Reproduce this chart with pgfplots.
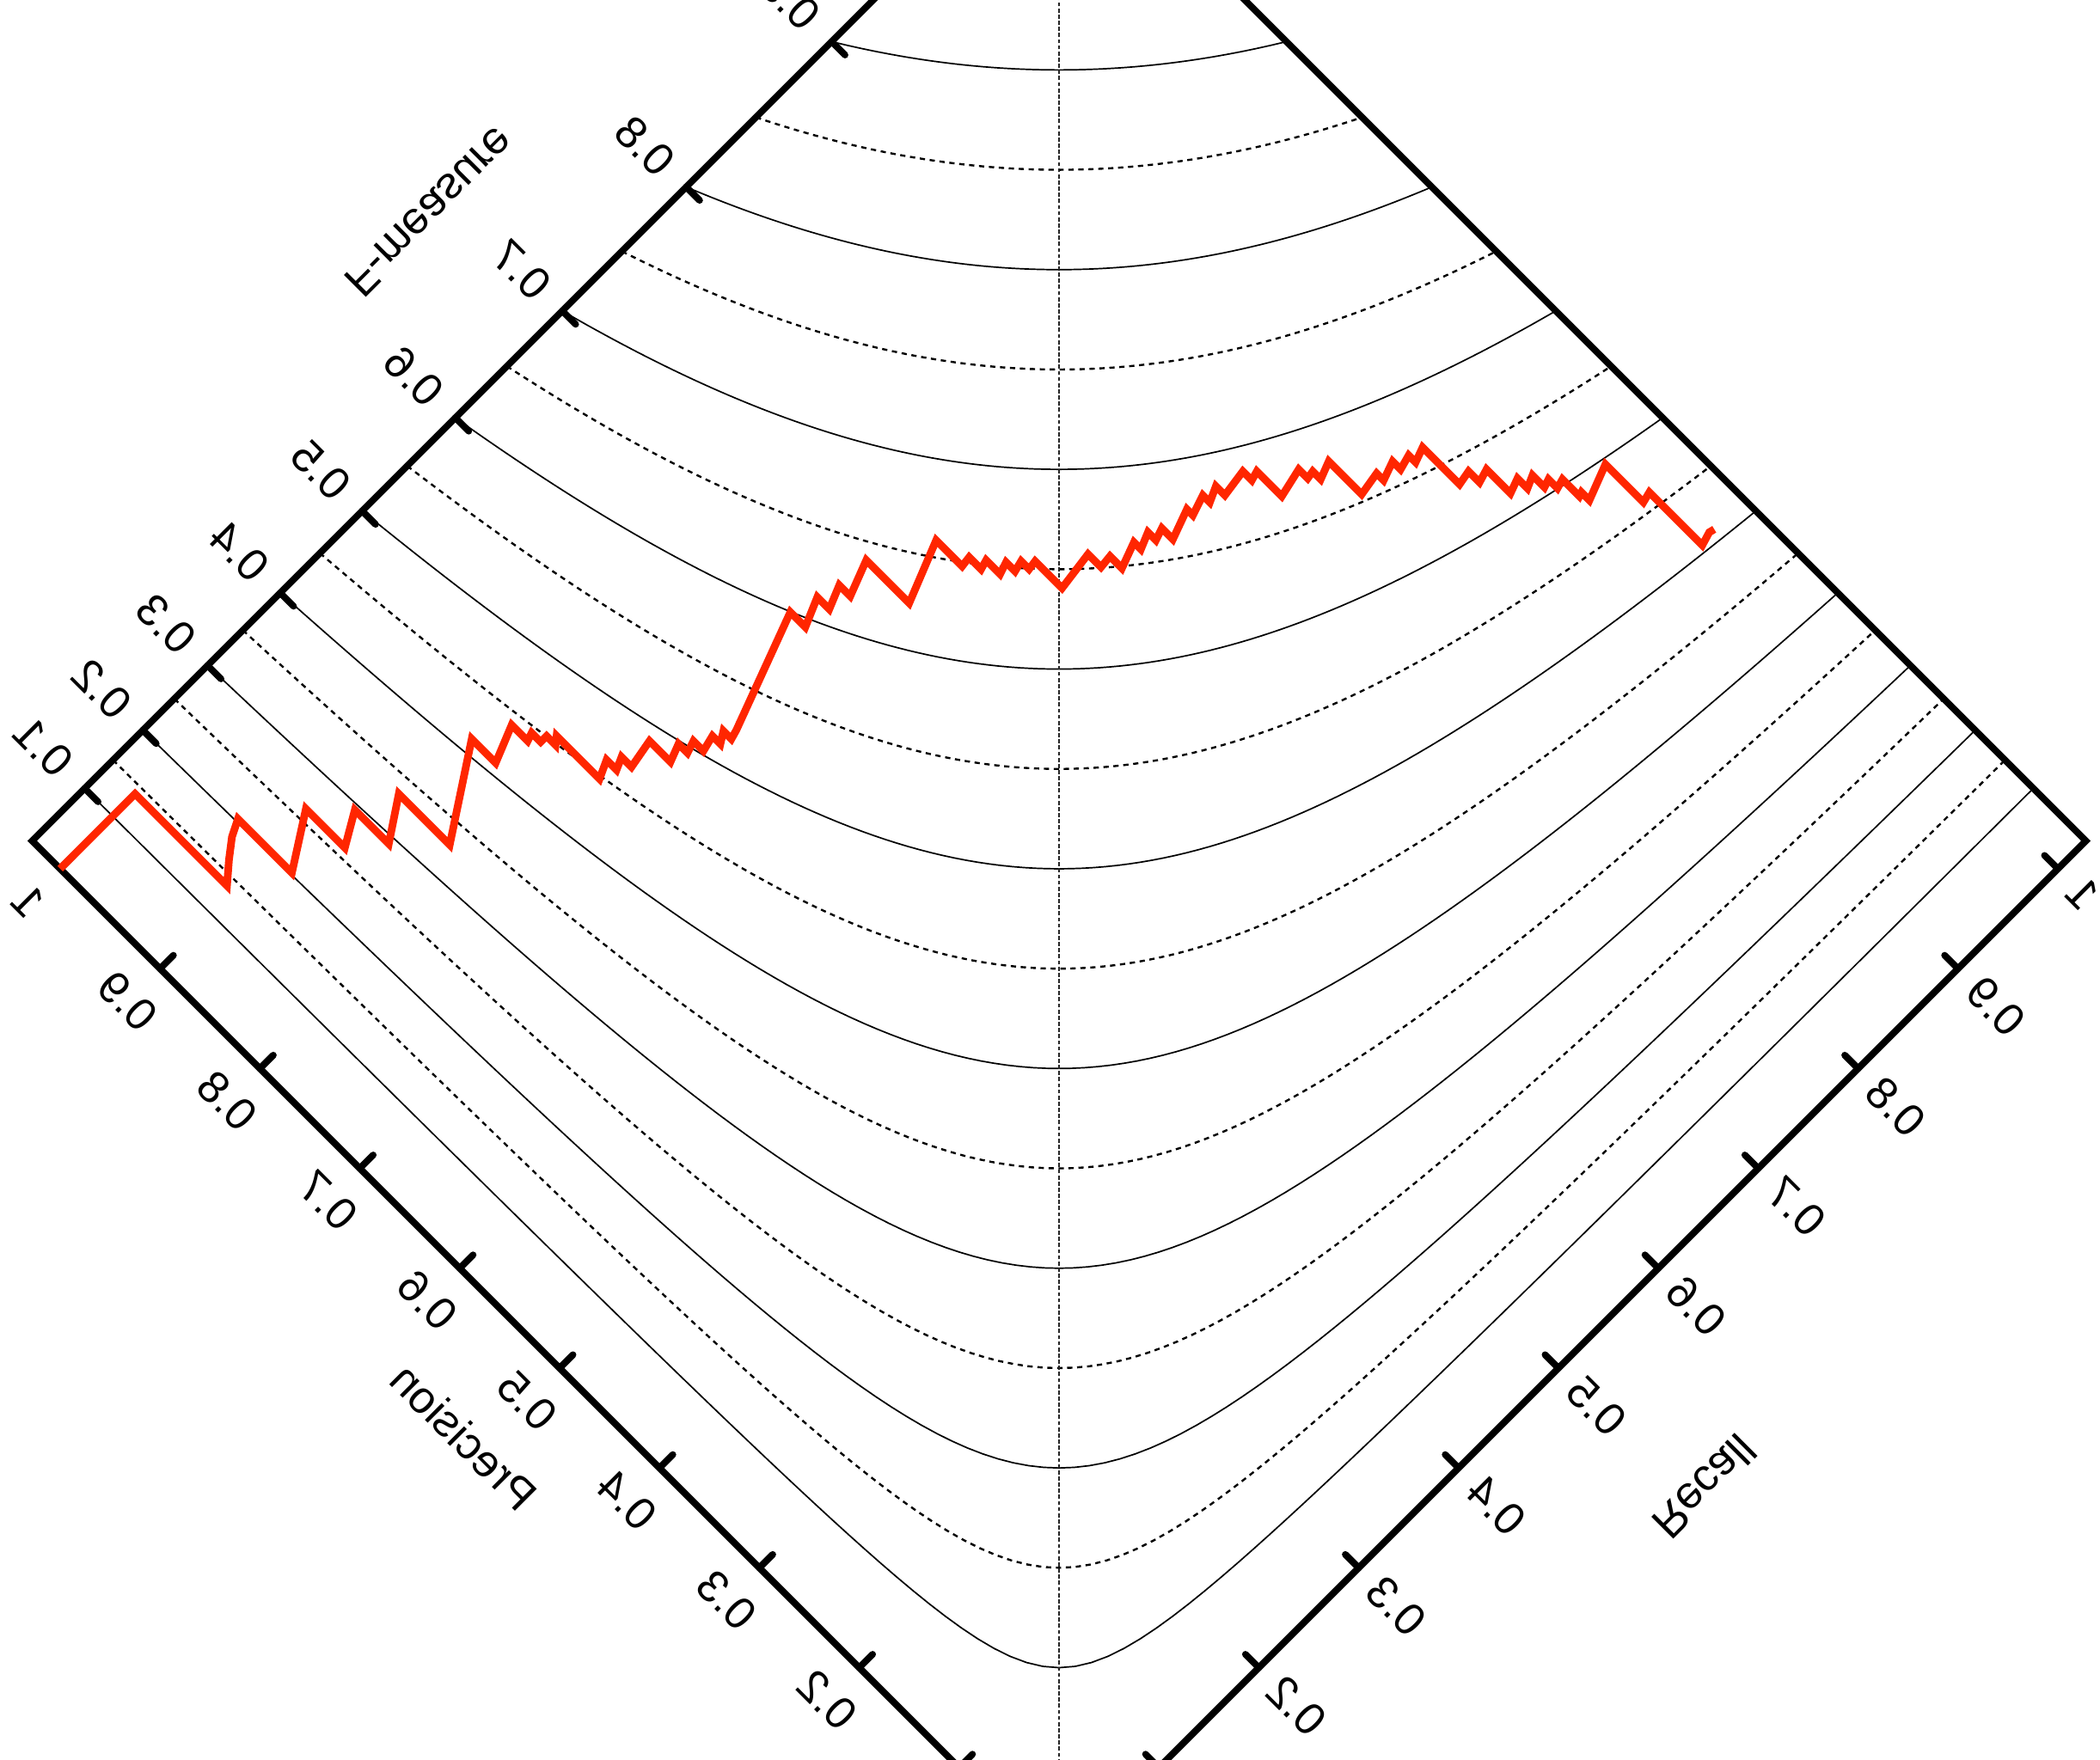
\documentclass[border=0pt]{standalone}
\usepackage{pgfplots}
\pgfplotsset{compat=1.18}
\usepackage{pgfplotstable}
\usepackage{fontspec}
\setmainfont{Liberation Sans}

\definecolor{prred}{RGB}{255,38,0}
% upper limit of both precision and recall axes
\def\prmax{1.028}
% tick length in data units (along each diagonal component)
\def\ticklen{0.0134}

\tikzset{
  isoF/.style={black, line width=0.25pt},
  isoFhalf/.style={black, line width=0.35pt, dash pattern=on 0.9pt off 0.8pt},
  tickline/.style={black, line width=1.15pt, line cap=round},
  lbl/.style={font=\fontsize{7.7}{9}\selectfont, inner sep=0pt},
}

% precision-recall curve (recall R, precision P)
\pgfplotstableread{
R P
0.000 1.000
0.075 1.000
0.075 0.908
0.089 0.920
0.102 0.930
0.114 0.936
0.114 0.882
0.153 0.907
0.153 0.868
0.177 0.882
0.177 0.848
0.207 0.868
0.207 0.817
0.271 0.859
0.271 0.835
0.298 0.846
0.298 0.830
0.304 0.832
0.304 0.823
0.310 0.823
0.310 0.814
0.315 0.818
0.315 0.775
0.328 0.781
0.328 0.771
0.337 0.775
0.337 0.765
0.359 0.769
0.359 0.748
0.372 0.753
0.372 0.744
0.381 0.747
0.381 0.737
0.393 0.740
0.393 0.732
0.401 0.737
0.401 0.729
0.408 0.731
0.494 0.763
0.494 0.748
0.515 0.757
0.515 0.745
0.532 0.752
0.532 0.741
0.558 0.751
0.558 0.708
0.603 0.726
0.603 0.700
0.611 0.701
0.611 0.689
0.618 0.691
0.618 0.677
0.627 0.680
0.627 0.671
0.635 0.673
0.635 0.665
0.642 0.666
0.642 0.639
0.672 0.643
0.672 0.630
0.682 0.631
0.682 0.619
0.701 0.626
0.701 0.619
0.713 0.624
0.713 0.616
0.722 0.619
0.722 0.608
0.744 0.616
0.744 0.610
0.759 0.615
0.759 0.608
0.770 0.613
0.770 0.604
0.791 0.607
0.791 0.598
0.798 0.600
0.798 0.575
0.820 0.580
0.820 0.571
0.826 0.572
0.826 0.564
0.839 0.569
0.839 0.536
0.857 0.539
0.857 0.532
0.871 0.537
0.871 0.529
0.882 0.532
0.882 0.525
0.893 0.529
0.893 0.492
0.904 0.494
0.904 0.483
0.914 0.486
0.914 0.462
0.925 0.466
0.925 0.456
0.934 0.460
0.934 0.448
0.940 0.450
0.940 0.441
0.947 0.443
0.947 0.426
0.950 0.427
0.950 0.419
0.976 0.429
0.976 0.391
0.984 0.393
0.984 0.340
0.994 0.343
0.998 0.342
}\prcurve

\begin{document}
\begin{tikzpicture}
% the plane is drawn in diagonal coordinates: x = R - P, y = R + P
\begin{axis}[
  x=6cm, y=6cm,
  xmin=-1.06024, xmax=1.04217,
  ymin=0.10757, ymax=1.87005,
  axis lines=none,
  clip=false,
]
\coordinate (bbsw) at (axis cs:-1.06024,0.10757);
\coordinate (bbne) at (axis cs:1.04217,1.87005);

% iso-F curves: 2PR/(P+R) = F is the hyperbola y = F + sqrt(x^2 + F^2)
\pgfplotsinvokeforeach{0.1,0.2,0.3,0.4,0.5,0.6,0.7,0.8,0.9}{
  \pgfmathsetmacro\isoa{2*\prmax*(\prmax-#1)/(2*\prmax-#1)}
  \addplot[isoF, domain=-\isoa:\isoa, samples=121] {#1+sqrt(x^2+#1^2)};
}
\pgfplotsinvokeforeach{0.15,0.25,0.35,0.45,0.55,0.65,0.75,0.85}{
  \pgfmathsetmacro\isoa{2*\prmax*(\prmax-#1)/(2*\prmax-#1)}
  \addplot[isoFhalf, domain=-\isoa:\isoa, samples=121] {#1+sqrt(x^2+#1^2)};
}

% P = R diagonal
\draw[black!85, line width=0.35pt, dash pattern=on 0.7pt off 0.35pt]
  (axis cs:0,0) -- (axis cs:0,{2*\prmax});

% frame
\draw[black, line width=1.15pt]
  (axis cs:0,0) -- (axis cs:{-\prmax},{\prmax}) -- (axis cs:0,{2*\prmax})
  -- (axis cs:{\prmax},{\prmax}) -- cycle;

% precision and recall ticks
\pgfplotsinvokeforeach{0.1,0.2,0.3,0.4,0.5,0.6,0.7,0.8,0.9,1}{
  \draw[tickline] (axis cs:{-#1},{#1}) -- (axis cs:{-#1+\ticklen},{#1+\ticklen});
  \draw[tickline] (axis cs:{#1},{#1}) -- (axis cs:{#1-\ticklen},{#1+\ticklen});
}
% precision and recall tick labels (0.1 falls below the picture)
\pgfplotsinvokeforeach{0.2,0.3,0.4,0.5,0.6,0.7,0.8,0.9,1}{
  \node[lbl, rotate=135, yscale=-1, anchor=center]
    at (axis cs:{-#1-0.0323},{#1-0.0323}) {#1};
  \node[lbl, rotate=135, yscale=-1, anchor=east]
    at (axis cs:{#1+0.015},{#1-0.015}) {#1};
}

% F-measure ticks and labels along the P = max edge
\pgfplotsinvokeforeach{0.1,0.2,0.3,0.4,0.5,0.6,0.7,0.8,0.9}{
  \draw[tickline]
    (axis cs:{#1*\prmax/(2*\prmax-#1)-\prmax},{#1*\prmax/(2*\prmax-#1)+\prmax})
    -- (axis cs:{#1*\prmax/(2*\prmax-#1)-\prmax+\ticklen},{#1*\prmax/(2*\prmax-#1)+\prmax-\ticklen});
  \node[lbl, rotate=135, yscale=-1, anchor=west]
    at (axis cs:{#1*\prmax/(2*\prmax-#1)-\prmax-0.0183},{#1*\prmax/(2*\prmax-#1)+\prmax+0.0183}) {#1};
}

% axis titles
\node[lbl, rotate=135, yscale=-1] at (axis cs:-0.5955,0.4312) {Precision};
\node[lbl, rotate=45, yscale=-1] at (axis cs:0.6463,0.3812) {Recall};
\node[lbl, rotate=45, yscale=-1] at (axis cs:-0.630,1.6575) {F-measure};

% precision-recall curve
\addplot[prred, line width=1.3pt, no markers]
  table[x expr=\thisrow{R}-\thisrow{P}, y expr=\thisrow{R}+\thisrow{P}] {\prcurve};
\end{axis}
\pgfresetboundingbox
\path[use as bounding box] (bbsw) rectangle (bbne);
\end{tikzpicture}
\end{document}
